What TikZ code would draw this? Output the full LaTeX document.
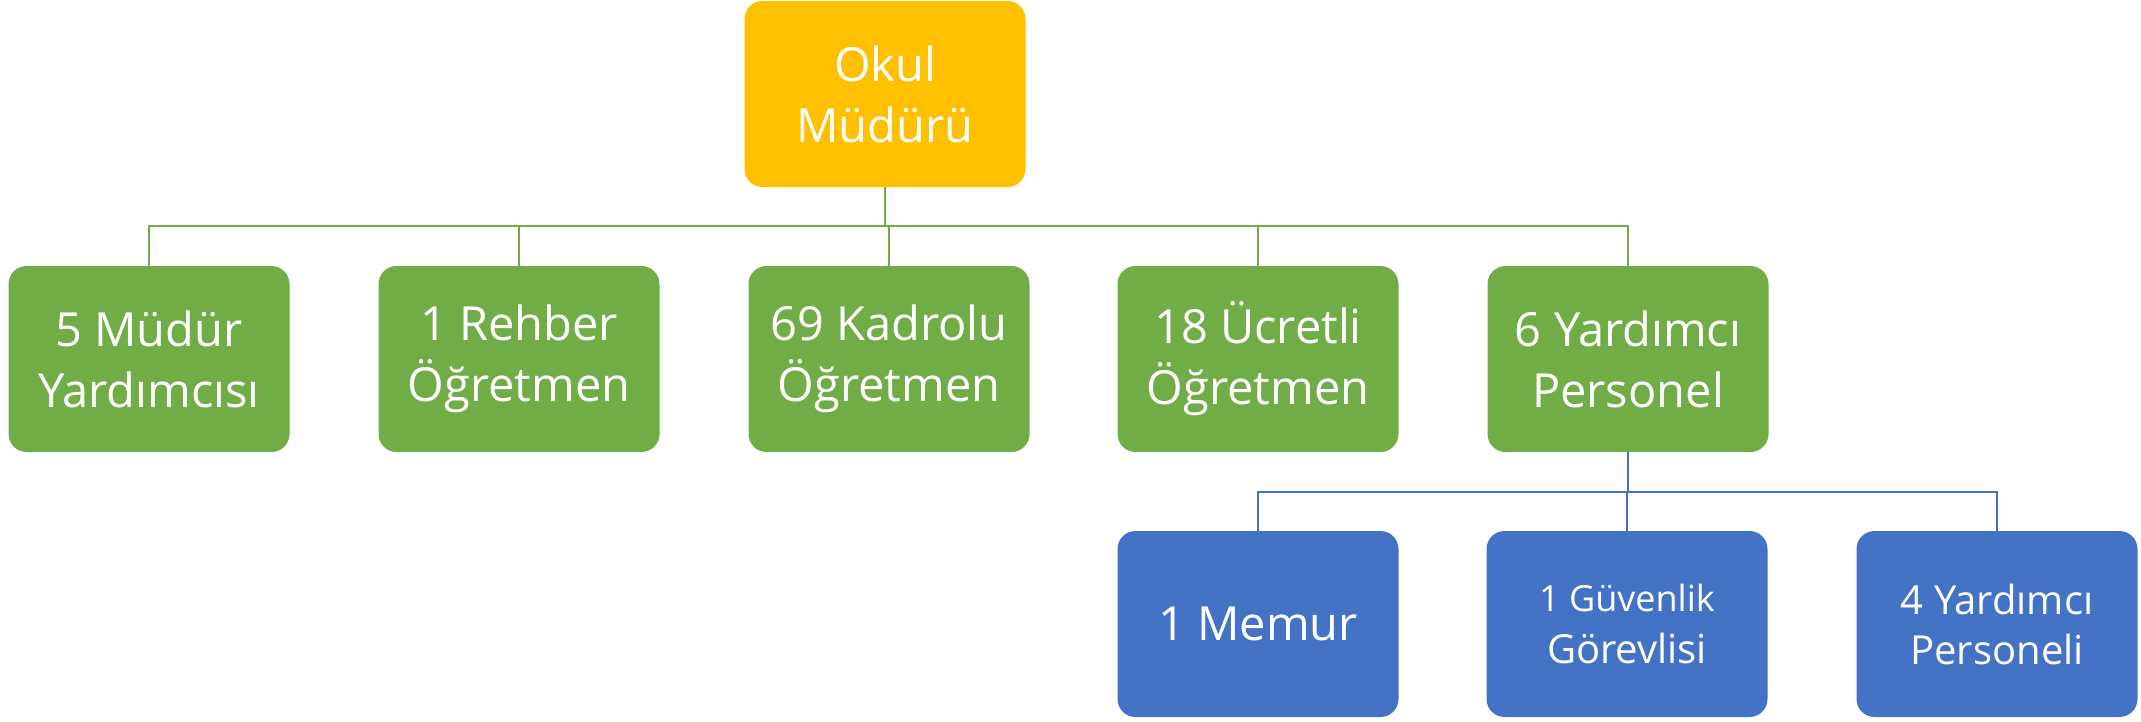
\documentclass[tikz,border=0pt]{standalone}
\usepackage{fontspec}
\setmainfont{Open Sans}
\definecolor{cOrange}{HTML}{FFC000}
\definecolor{cGreen}{HTML}{70AD47}
\definecolor{cBlue}{HTML}{4472C4}
\begin{document}
\begin{tikzpicture}[x=1pt,y=-1pt,
  box/.style={rounded corners=18pt, minimum width=281pt, minimum height=186pt,
    inner sep=0pt, align=center, text=white, font=\fontsize{47}{61}\selectfont},
  gbox/.style={box, fill=cGreen},
  bbox/.style={box, fill=cBlue},
  obox/.style={box, fill=cOrange},
  gline/.style={draw=cGreen, line width=2.5pt},
  bline/.style={draw=cBlue, line width=2.5pt}]
\useasboundingbox (0,0) rectangle (2141,721);
\node[obox] (okul) at (885,94) {Okul\\Müdürü};
\node[gbox] (g1) at (149,359) {5 Müdür\\Yardımcısı};
\node[gbox] (g2) at (519,359) {1 Rehber\\Öğretmen};
\node[gbox] (g3) at (889,359) {69 Kadrolu\\Öğretmen};
\node[gbox] (g4) at (1258,359) {18 Ücretli\\Öğretmen};
\node[gbox] (g5) at (1628,359) {6 Yardımcı\\Personel};
\node[bbox] (b1) at (1258,624) {1 Memur};
\node[bbox, font=\fontsize{36}{52}\selectfont] (b2) at (1627,624) {1 Güvenlik\\{\fontsize{40}{52}\selectfont Görevlisi}};
\node[bbox, font=\fontsize{40}{50}\selectfont] (b3) at (1997,624) {4 Yardımcı\\Personeli};
\foreach \c in {g1,g2,g3,g4,g5}
  \draw[gline] (okul.south) -- ++(0,39) -| (\c.north);
\foreach \c in {b1,b2,b3}
  \draw[bline] (g5.south) -- ++(0,40) -| (\c.north);
\end{tikzpicture}
\end{document}
